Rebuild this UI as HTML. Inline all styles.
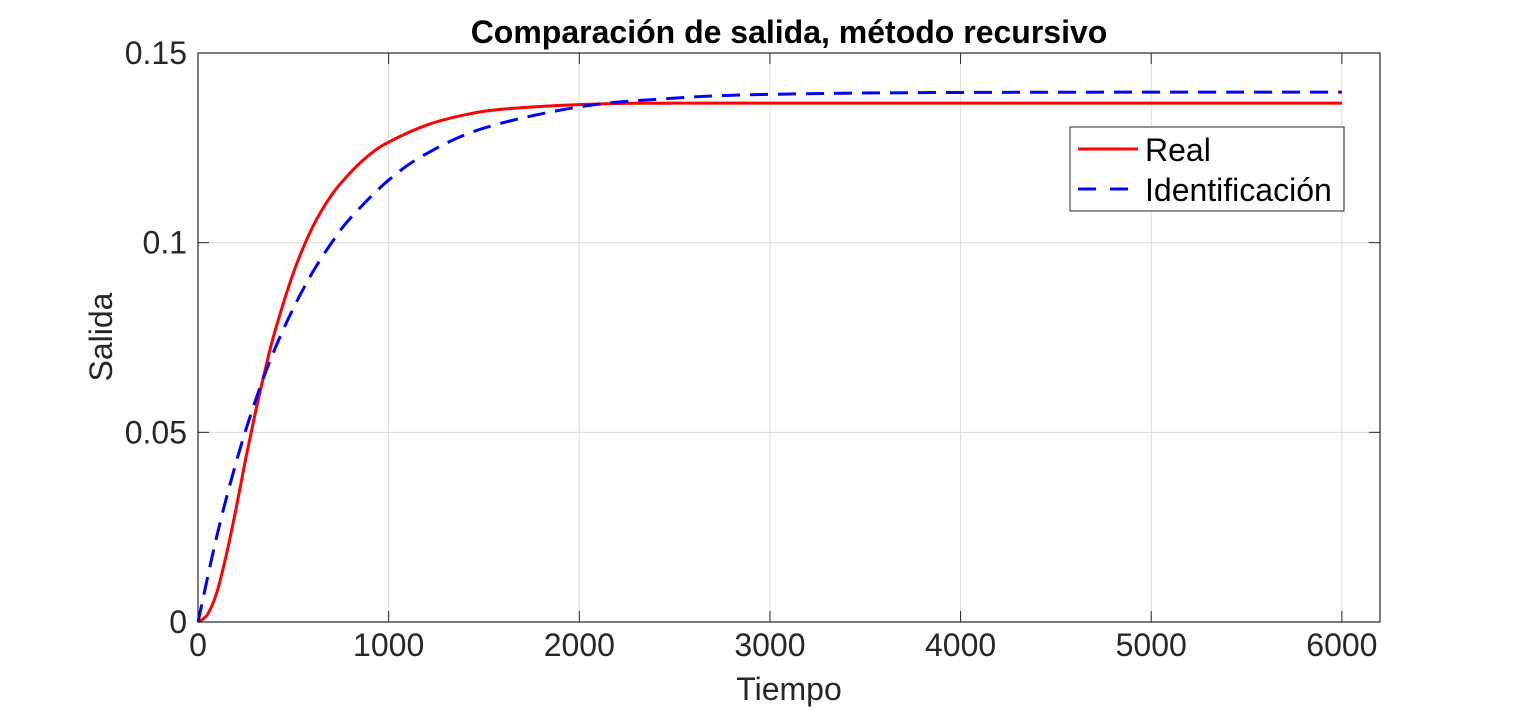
<!DOCTYPE html>
<html><head><meta charset="utf-8"><style>
html,body{margin:0;padding:0;background:#fff;width:1524px;height:710px;overflow:hidden}
svg{display:block;font-family:"Liberation Sans",sans-serif}
</style></head><body>
<svg id="chart" width="1524" height="710" viewBox="0 0 1524 710">
<g id="grid"></g>
<g id="series"></g>
<rect x="198" y="53" width="1182" height="569" fill="none" stroke="#262626" stroke-width="1.2"/>
<g id="ticks"></g>
<text x="789" y="43" text-anchor="middle" font-size="32" font-weight="bold" fill="#000">Comparación de salida, método recursivo</text>
<text x="789" y="700" text-anchor="middle" font-size="32" fill="#262626">Tiempo</text>
<text transform="translate(112,337) rotate(-90)" text-anchor="middle" font-size="32" fill="#262626">Salida</text>
<g>
<rect x="1070" y="127" width="274" height="84" fill="#fff" stroke="#262626" stroke-width="1"/>
<g>
<line x1="1078" y1="149" x2="1138" y2="149" stroke="#ff0000" stroke-width="3"/>
<text x="1145" y="161" font-size="32" fill="#000">Real</text></g>
<g>
<line x1="1078" y1="189" x2="1138" y2="189" stroke="#0000ff" stroke-width="3" stroke-dasharray="18,14"/>
<text x="1145" y="201" font-size="32" fill="#000">Identificación</text></g>
</g>
</svg>
<script>
const timeReal = [0,50,100,150,200,250,300,350,400,500,600,700,800,900,1000,1200,1400,1600,2000,2500,4000,6000];
const valuesReal = [0,0.002,0.008,0.018,0.030,0.043,0.055,0.066,0.076,0.092,0.104,0.1125,0.1185,0.1232,0.1265,0.1310,0.1337,0.1352,0.1364,0.1368,0.1368,0.1368];
const timeIdent = [0,100,200,300,400,500,600,700,800,1000,1200,1500,2000,2500,3000,4000,6000];
const valuesIdent = [0,0.0229,0.0421,0.0582,0.0716,0.0827,0.0921,0.0999,0.1065,0.1165,0.1235,0.1302,0.1358,0.1381,0.1391,0.1396,0.1397];
const xTicks = [0,1000,2000,3000,4000,5000,6000];
const yTicks = [0,0.05,0.1,0.15];
const yTickLabels = ["0","0.05","0.1","0.15"];
const X0=198,X1=1380,Y0=622,Y1=53,XMAX=6200,YMAX=0.15;
const xs=t=>X0+(X1-X0)*t/XMAX, ys=v=>Y0-(Y0-Y1)*v/YMAX;
const NS="http://www.w3.org/2000/svg";
const mk=(tag,attrs,parent)=>{const e=document.createElementNS(NS,tag);for(const k in attrs)e.setAttribute(k,attrs[k]);parent.appendChild(e);return e;};
const grid=document.getElementById('grid'),ticks=document.getElementById('ticks'),series=document.getElementById('series');
xTicks.forEach(t=>{
  const x=xs(t);
  if(t>0){const g=mk('line',{x1:x,x2:x,y1:Y1,y2:Y0,stroke:'#dcdcdc','stroke-width':1},grid);
  
  }
  mk('line',{x1:x,x2:x,y1:Y0,y2:Y0-11,stroke:'#262626','stroke-width':1},ticks);
  mk('line',{x1:x,x2:x,y1:Y1,y2:Y1+11,stroke:'#262626','stroke-width':1},ticks);
  const l=mk('text',{x:x,y:Y0+34,'text-anchor':'middle','font-size':32,fill:'#262626'},ticks);
  l.textContent=t;
  
  
});
yTicks.forEach((v,i)=>{
  const y=ys(v);
  if(v>0&&v<YMAX){const g=mk('line',{x1:X0,x2:X1,y1:y,y2:y,stroke:'#dcdcdc','stroke-width':1},grid);
  
  }
  mk('line',{x1:X0,x2:X0+11,y1:y,y2:y,stroke:'#262626','stroke-width':1},ticks);
  mk('line',{x1:X1,x2:X1-11,y1:y,y2:y,stroke:'#262626','stroke-width':1},ticks);
  const l=mk('text',{x:X0-11,y:y+11,'text-anchor':'end','font-size':32,fill:'#262626'},ticks);
  l.textContent=yTickLabels[i];
  
  
});
function smoothPath(ts,vs){
  const p=ts.map((t,i)=>[xs(t),ys(vs[i])]);
  let d='M'+p[0][0]+','+p[0][1];
  for(let i=0;i<p.length-1;i++){
    const p0=p[Math.max(i-1,0)],p1=p[i],p2=p[i+1],p3=p[Math.min(i+2,p.length-1)];
    const c1=[p1[0]+(p2[0]-p0[0])/6,p1[1]+(p2[1]-p0[1])/6];
    const c2=[p2[0]-(p3[0]-p1[0])/6,p2[1]-(p3[1]-p1[1])/6];
    d+=' C'+c1+' '+c2+' '+p2;
  }
  return d;
}
const r=mk('path',{d:smoothPath(timeReal,valuesReal),fill:'none',stroke:'#ff0000','stroke-width':3},series);


const b=mk('path',{d:smoothPath(timeIdent,valuesIdent),fill:'none',stroke:'#0000ff','stroke-width':3,'stroke-dasharray':'18,10'},series);


</script>
</body></html>
